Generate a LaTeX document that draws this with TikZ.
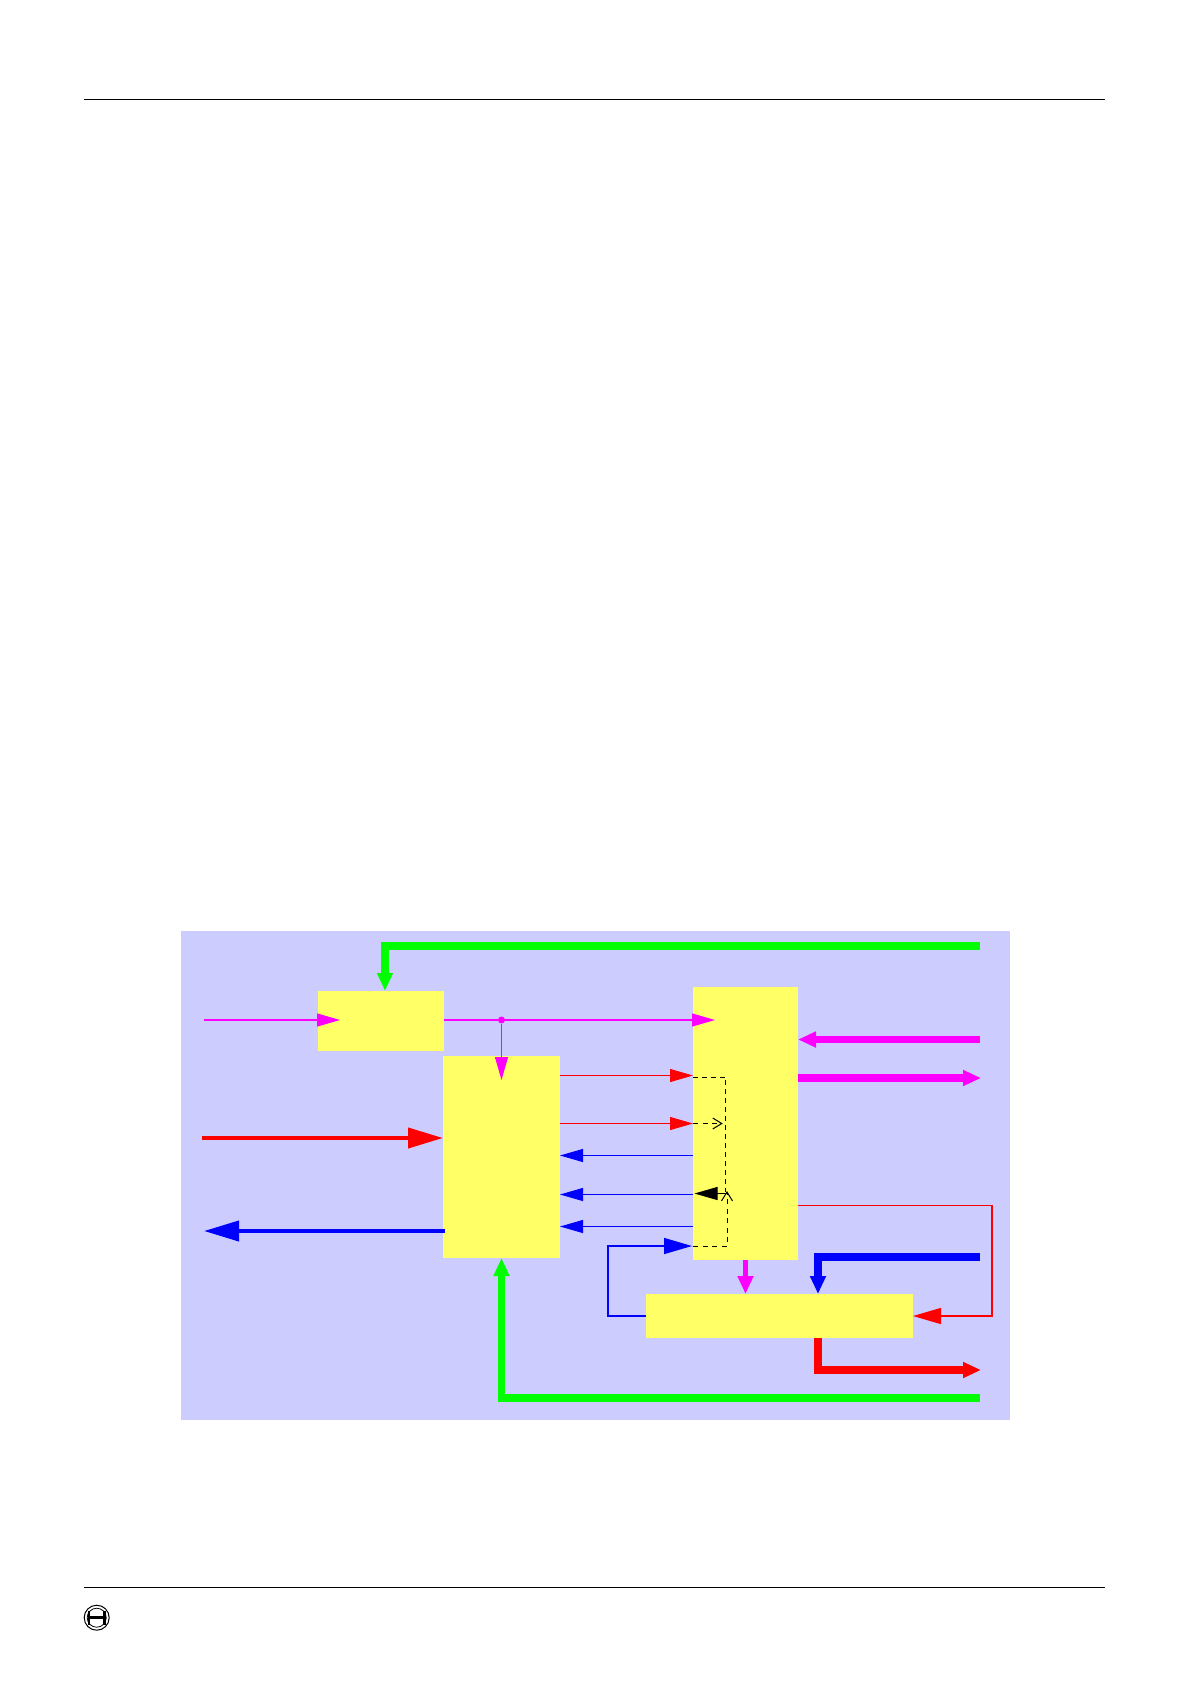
\documentclass[tikz,border=0pt]{standalone}
\usepackage{xcolor}
\usetikzlibrary{arrows.meta,positioning}
\definecolor{Lilac}{HTML}{CCCCFF}
\definecolor{Butter}{HTML}{FFFF66}
\definecolor{Fuchsia}{HTML}{FF00FF}
\definecolor{Scarlet}{HTML}{FF0000}
\definecolor{Cobalt}{HTML}{0000FF}
\definecolor{Lime}{HTML}{00FF00}
\begin{document}
\begin{tikzpicture}[
    x=0.5pt,y=-0.5pt,
    panelbox/.style={fill=Lilac,inner sep=0pt,outer sep=0pt,minimum width=414.5pt,minimum height=244.5pt},
    block/.style={fill=Butter,inner sep=0pt,outer sep=0pt},
    junction/.style={circle,fill=Fuchsia,inner sep=0pt,minimum size=3.5pt},
    badge/.style={circle,draw,line width=0.5pt,inner sep=0pt,minimum size=12.5pt},
    rule/.style={line width=0.5pt},
    smallarrow/.style={-{Triangle[length=11.5pt,width=6.5pt]},line width=0.5pt},
    midarrow/.style={-{Triangle[length=14pt,width=8pt]},line width=0.75pt},
    bigarrow/.style={-{Triangle[length=17.5pt,width=10pt]},line width=2pt},
    busarrow/.style={-{Triangle[length=9pt,width=7.5pt]},line width=3.8pt},
    dashline/.style={line width=0.5pt,dash pattern=on 2.5pt off 2pt},
    barbline/.style={-{Straight Barb[length=4.5pt,width=5.5pt]},line width=0.5pt,dash pattern=on 2.5pt off 2.25pt}
]
\useasboundingbox (0,0) rectangle (1190,1684);

\draw[rule] (84,99.5)--(1105,99.5);
\draw[rule] (84,1587.5)--(1105,1587.5);

\node[badge] (logo) at (96.7,1617.7) {};
\draw[line width=0.4pt] (logo.center) circle[radius=9.5];
\fill[white] ([xshift=-4.5pt,yshift=2.2pt]logo.center) rectangle ([xshift=4.5pt,yshift=-2.2pt]logo.center);
\fill ([xshift=-4.5pt,yshift=3.5pt]logo.center) rectangle ([xshift=-3.2pt,yshift=-3.5pt]logo.center);
\fill ([xshift=3.2pt,yshift=3.5pt]logo.center) rectangle ([xshift=4.5pt,yshift=-3.5pt]logo.center);
\fill ([xshift=-3.2pt,yshift=0.7pt]logo.center) rectangle ([xshift=3.2pt,yshift=-0.7pt]logo.center);

\node[panelbox,anchor=north west] (panel) at (181,931) {};

\node[block,minimum width=63pt,minimum height=30pt,below right=30pt and 68.5pt of panel.north west] (filterblk) {};
\node[block,minimum width=58.5pt,minimum height=101pt,below right=2.5pt and -0.5pt of filterblk.south east] (coreblk) {};
\node[block,minimum width=52.5pt,minimum height=136.5pt,below right=-2pt and 124.5pt of filterblk.north east] (ctrlblk) {};
\node[block,minimum width=133.5pt,minimum height=22pt,below right=17pt and -23.5pt of ctrlblk.south west] (outblk) {};

\coordinate (clkin) at (204,1020);
\coordinate (datain) at (202,1138);
\coordinate (dataout) at (204,1231);
\coordinate (busin) at (980,946);
\coordinate (busback) at (980,1398);
\coordinate (pinkin) at (980,1039.5);
\coordinate (pinkout) at (981,1078);
\coordinate (ackin) at (980,1257);
\coordinate (resout) at (981,1370);
\coordinate (porta) at ([yshift=24pt]ctrlblk.west);
\coordinate (portb) at ([yshift=-16pt]ctrlblk.west);
\coordinate (portc) at ([yshift=-35.5pt]ctrlblk.west);
\coordinate (portd) at ([yshift=-51.5pt]ctrlblk.west);
\coordinate (porte) at ([yshift=-61.25pt]ctrlblk.west);
\coordinate (loopout) at ([yshift=-41pt]ctrlblk.east);
\coordinate (jointa) at (725.7,1192);
\coordinate (jointb) at (727,1191);

\node[junction] (split) at (coreblk.north |- clkin) {};

\draw[busarrow,Lime] (busin) -| ([xshift=2pt]filterblk.north);
\draw[smallarrow,Fuchsia,line width=0.65pt] (clkin)--([xshift=11pt]clkin -| filterblk.west);
\draw[smallarrow,Fuchsia,line width=0.65pt] (clkin -| filterblk.east)--([xshift=11pt]clkin -| ctrlblk.west);
\draw[smallarrow,Fuchsia] (split)--([yshift=-12pt]coreblk.north);
\draw[bigarrow,Scarlet] (datain)--(datain -| coreblk.west);
\draw[bigarrow,Cobalt] ([xshift=1pt]dataout -| coreblk.west)--(dataout);
\draw[busarrow,Lime] (busback) -| (coreblk.south);

\draw[smallarrow,Scarlet] (porta -| coreblk.east)--(porta);
\draw[smallarrow,Scarlet] (ctrlblk.west -| coreblk.east)--(ctrlblk.west);
\draw[smallarrow,Cobalt] (portb)--(portb -| coreblk.east);
\draw[smallarrow,Cobalt] (portc)--(portc -| coreblk.east);
\draw[smallarrow,Cobalt] (portd)--(portd -| coreblk.east);
\draw[midarrow,Cobalt] (outblk.west)--++(-38,0) |- ([xshift=-0.5pt]porte);

\draw[dashline] ([yshift=-0.75pt]porta) -| (jointa);
\draw[barbline] (ctrlblk.west)--([xshift=-1.5pt]jointa |- ctrlblk.west);
\draw[barbline] (porte) -| (jointb);
\draw[smallarrow] ([yshift=0.5pt]portc -| jointb)--([xshift=0.75pt,yshift=0.5pt]portc);

\draw[midarrow,Scarlet] (loopout)--++(194,0) |- (outblk.east);
\draw[busarrow,Fuchsia,line width=3.6pt] (pinkin)--(pinkin -| ctrlblk.east);
\draw[busarrow,Fuchsia,line width=3.6pt] (pinkout -| ctrlblk.east)--(pinkout);
\draw[busarrow,Fuchsia,line width=2.9pt] (ctrlblk.south)--(ctrlblk.south |- outblk.north);
\draw[busarrow,Cobalt,line width=4pt] (ackin) -| ([xshift=19.25pt]outblk.north);
\draw[busarrow,Scarlet,line width=4pt] ([xshift=19.25pt]outblk.south) |- (resout);
\end{tikzpicture}
\end{document}
